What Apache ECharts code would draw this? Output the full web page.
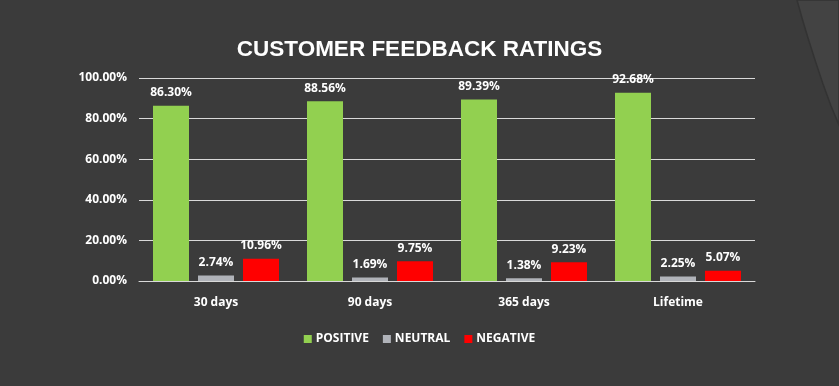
<!DOCTYPE html>
<html><head><meta charset="utf-8">
<script src="https://cdn.jsdelivr.net/npm/echarts@6/dist/echarts.min.js"></script>
<style>html,body{margin:0;padding:0;background:#3b3b3b}#c{width:839px;height:386px}</style>
</head><body><div id="c"></div>
<script>
const categories = ['30 days', '90 days', '365 days', 'Lifetime'];
const positive = [86.30, 88.56, 89.39, 92.68];
const neutral = [2.74, 1.69, 1.38, 2.25];
const negative = [10.96, 9.75, 9.23, 5.07];
const yTicks = [0, 20, 40, 60, 80, 100];

const chart = echarts.init(document.getElementById('c'));
const font = "'Open Sans', 'DejaVu Sans', sans-serif";
const lbl = {
  show: true, position: 'top', distance: 7, color: '#ffffff', fontWeight: 'bold',
  fontSize: 12, fontFamily: font, formatter: p => p.value.toFixed(2) + '%'
};
function mk(name, data, color) {
  return { name, type: 'bar', data, barWidth: 36, barGap: '25%',
    itemStyle: { color }, label: lbl };
}
chart.setOption({
  backgroundColor: '#3b3b3b',
  animation: false,
  graphic: [{
    type: 'polygon', silent: true, z: -1,
    shape: { points: [[797, 0], [802, 18], [808, 38], [815, 60], [823, 84], [831, 106], [839, 125], [839, 0]] },
    style: { fill: '#434343', stroke: '#333333', lineWidth: 1.5 }
  }],
  title: {
    text: 'CUSTOMER FEEDBACK RATINGS', left: 'center', top: 33,
    textStyle: { color: '#ffffff', fontSize: 22.5, fontWeight: 'bold',
      fontFamily: "'Liberation Sans', Arial, sans-serif" }
  },
  legend: {
    bottom: 36, left: 'center', itemWidth: 8, itemHeight: 8, itemGap: 14,
    icon: 'rect',
    textStyle: { color: '#ffffff', fontSize: 12, fontWeight: 'bold', fontFamily: font, padding: [0, 0, 0, -1] },
    data: ['POSITIVE', 'NEUTRAL', 'NEGATIVE']
  },
  grid: { left: 139, right: 84, top: 78, bottom: 105 },
  xAxis: {
    type: 'category', data: categories,
    axisLine: { lineStyle: { color: '#d9d9d9', width: 1 } },
    axisTick: { show: false },
    axisLabel: { color: '#ffffff', fontSize: 12, fontWeight: 'bold', fontFamily: font, margin: 16 }
  },
  yAxis: {
    type: 'value', min: 0, max: 100, interval: 20,
    axisLine: { show: false }, axisTick: { show: false },
    splitLine: { lineStyle: { color: '#d9d9d9', width: 1 } },
    axisLabel: { color: '#ffffff', fontSize: 12, fontWeight: 'bold', fontFamily: font, margin: 12,
      formatter: v => yTicks.includes(v) ? v.toFixed(2) + '%' : '' }
  },
  series: [
    mk('POSITIVE', positive, '#92d050'),
    mk('NEUTRAL', neutral, '#b0b3b9'),
    mk('NEGATIVE', negative, '#ff0000')
  ]
});
</script></body></html>
